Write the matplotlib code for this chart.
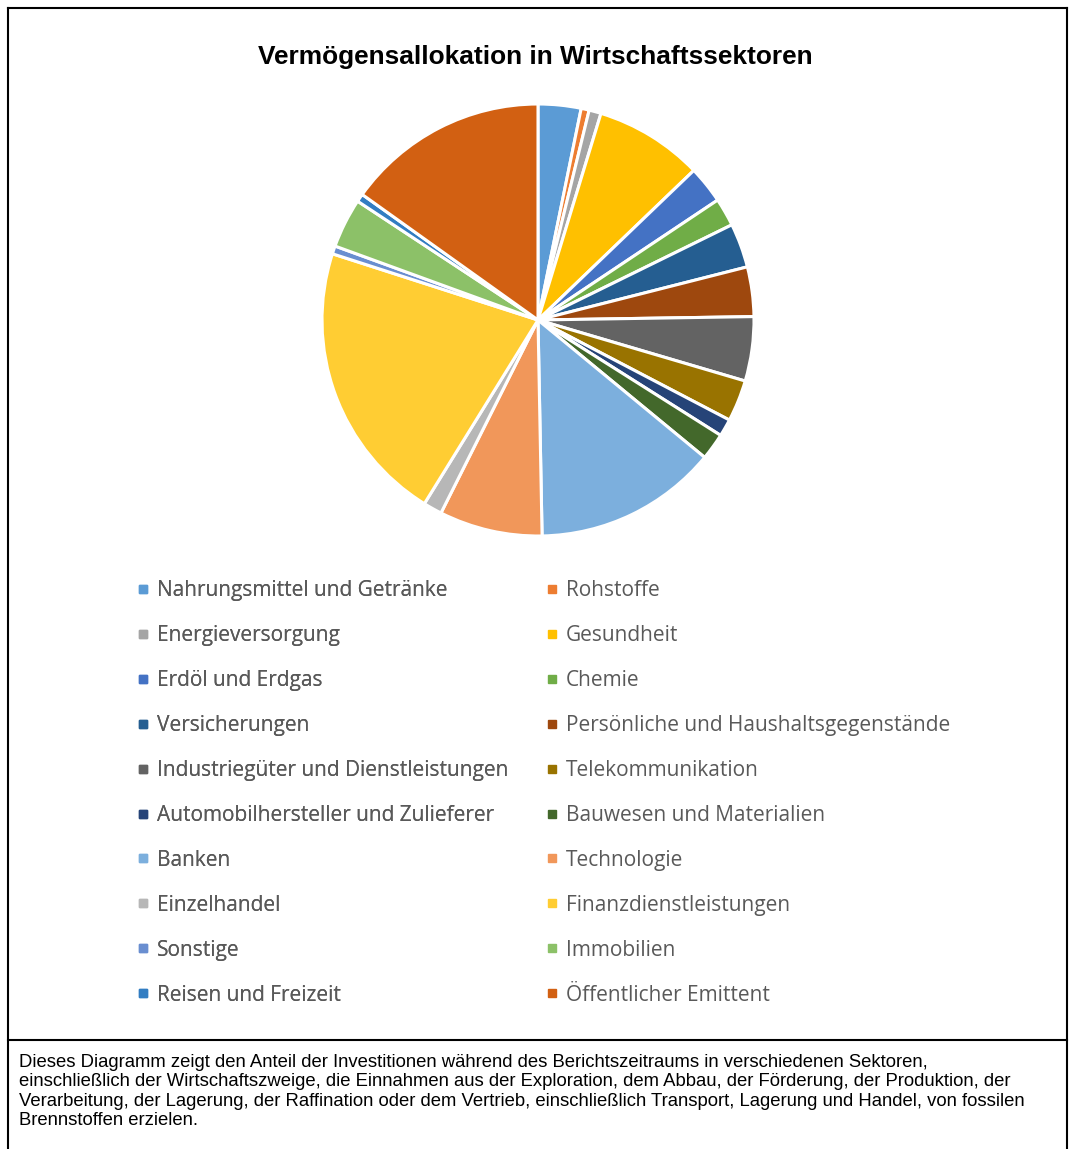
import matplotlib
matplotlib.use("Agg")
import matplotlib.pyplot as plt
from matplotlib.lines import Line2D

categories = [
    "Nahrungsmittel und Getränke", "Rohstoffe", "Energieversorgung", "Gesundheit",
    "Erdöl und Erdgas", "Chemie", "Versicherungen", "Persönliche und Haushaltsgegenstände",
    "Industriegüter und Dienstleistungen", "Telekommunikation",
    "Automobilhersteller und Zulieferer", "Bauwesen und Materialien",
    "Banken", "Technologie", "Einzelhandel", "Finanzdienstleistungen",
    "Sonstige", "Immobilien", "Reisen und Freizeit", "Öffentlicher Emittent",
]
values = [3.2, 0.6, 0.9, 8.1, 2.8, 2.1, 3.3, 3.7, 4.8, 3.1,
          1.3, 2.0, 13.7, 7.7, 1.4, 21.1, 0.6, 3.7, 0.6, 15.1]
colors = ["#5B9BD5", "#ED7D31", "#A5A5A5", "#FFC000", "#4472C4", "#70AD47",
          "#255E91", "#9E480E", "#636363", "#997300", "#264478", "#43682B",
          "#7CAFDD", "#F1975A", "#B7B7B7", "#FFCD33", "#698ED0", "#8CC168",
          "#327DC2", "#D26012"]

title = "Vermögensallokation in Wirtschaftssektoren"
caption = ("Dieses Diagramm zeigt den Anteil der Investitionen während des Berichtszeitraums in verschiedenen Sektoren,\n"
           "einschließlich der Wirtschaftszweige, die Einnahmen aus der Exploration, dem Abbau, der Förderung, der Produktion, der\n"
           "Verarbeitung, der Lagerung, der Raffination oder dem Vertrieb, einschließlich Transport, Lagerung und Handel, von fossilen\n"
           "Brennstoffen erzielen.")

W, H = 1075, 1149
fig = plt.figure(figsize=(W / 100, H / 100), dpi=100)
fig.patch.set_facecolor("white")

# pie axes: center (538, 320), radius 216 px
cx, cy, r = 538, 320, 216
ax = fig.add_axes([(cx - r) / W, 1 - (cy + r) / H, 2 * r / W, 2 * r / H])
wedges, _ = ax.pie(values, colors=colors, startangle=90, counterclock=False,
                   wedgeprops=dict(edgecolor="white", linewidth=2.2))
ax.set_xlim(-1, 1)
ax.set_ylim(-1, 1)
ax.axis("off")

fig.text(535 / W, 1 - 57 / H, title, ha="center", va="center",
         fontsize=18.9, fontweight="bold", family="Liberation Sans", color="black")

# legends: two columns, row-wise order
def make_legend(idx, x0):
    handles = [Line2D([], [], marker="s", linestyle="none", markersize=6,
                      markerfacecolor=colors[i], markeredgecolor=colors[i]) for i in idx]
    labels = [categories[i] for i in idx]
    leg = fig.legend(handles, labels, loc="upper left",
                     bbox_to_anchor=(x0 / W, 1 - 580 / H), frameon=False,
                     prop=dict(family="Open Sans", size=15),
                     handlelength=0.5, handletextpad=0.41, labelspacing=1.15,
                     borderpad=0, borderaxespad=0, labelcolor="#595959")
    return leg

l1 = make_legend(list(range(0, 20, 2)), 138)
fig.add_artist(l1)
l2 = make_legend(list(range(1, 20, 2)), 547)

fig.text(19 / W, 1 - 1054 / H, caption, ha="left", va="top", fontsize=13.3,
         family="Liberation Sans", color="black", linespacing=1.19)

lw = 1.5
fig.add_artist(Line2D([8 / W, 8 / W], [0, 1 - 8 / H], transform=fig.transFigure, color="black", lw=lw))
fig.add_artist(Line2D([1067 / W, 1067 / W], [0, 1 - 8 / H], transform=fig.transFigure, color="black", lw=lw))
fig.add_artist(Line2D([8 / W, 1067 / W], [1 - 8 / H, 1 - 8 / H], transform=fig.transFigure, color="black", lw=lw))
fig.add_artist(Line2D([8 / W, 1067 / W], [1 - 1040 / H, 1 - 1040 / H], transform=fig.transFigure, color="black", lw=lw))

fig.savefig("out.png", dpi=100, facecolor="white")
